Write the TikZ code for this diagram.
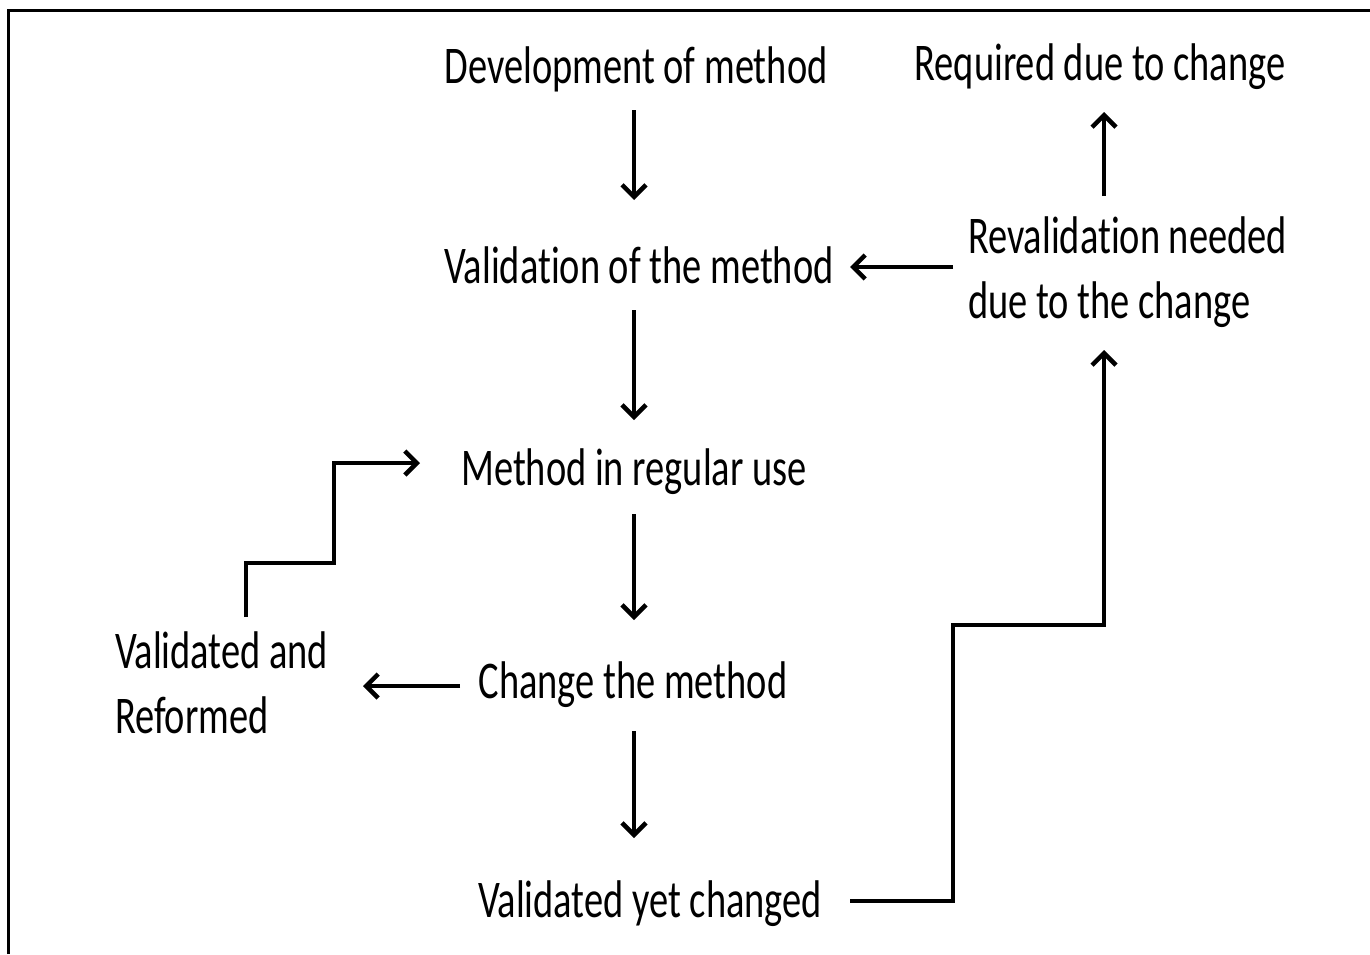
\documentclass[tikz,border=0pt]{standalone}
\usepackage{fontspec}
\setmainfont{Carlito}[FakeStretch=0.725,Ligatures=NoCommon]
\usetikzlibrary{arrows.meta,calc}
\begin{document}
\begin{tikzpicture}[x=1pt,y=-1pt,
  lbl/.style={inner sep=0pt,outer sep=0pt,font=\fontsize{53pt}{65pt}\selectfont},
  conn/.style={line width=4.5pt},
  arr/.style={conn,-{Straight Barb[length=12pt,width=24pt,line width=4.5pt]}}]
\useasboundingbox (0,0) rectangle (1370,954);
\draw[line width=3pt] (8,954) -- (8,10) -- (1370,10);
\coordinate (col) at (634,0);
\node[lbl,anchor=base] (dev) at (636,83) {Development of method};
\node[lbl,anchor=base] (val) at (639,283) {Validation of the method};
\node[lbl,anchor=base] (meth) at (634,485) {Method in regular use};
\node[lbl,anchor=base] (chg) at (633,698) {Change the method};
\node[lbl,anchor=base] (vyc) at (650,917) {Validated yet changed};
\node[lbl,anchor=base] (req) at (1100,80) {Required due to change};
\node[lbl,anchor=base west,align=left] (rev) at (968,318) {Revalidation needed\\due to the change};
\node[lbl,anchor=base west,align=left] (var) at (115,733) {Validated and\\Reformed};
% vertical chain
\draw[arr] ($(dev.base -| col)+(0,27)$) -- ($(val.base -| col)+(0,-83)$);
\draw[arr] ($(val.base -| col)+(0,27)$) -- ($(meth.base -| col)+(0,-65)$);
\draw[arr] ($(meth.base -| col)+(0,29)$) -- ($(chg.base -| col)+(0,-78)$);
\draw[arr] ($(chg.base -| col)+(0,33)$) -- ($(vyc.base -| col)+(0,-79)$);
% right side
\coordinate (rcol) at (1104,0);
\draw[arr] ($(rev.north -| rcol)+(0,-20)$) -- ($(req.base -| rcol)+(0,32)$);
\draw[arr] (953,267) -- (850,267);
\draw[arr] ($(vyc.base)+(200,-16)$) -- (953,901) -- (953,625) -- (1104,625) -- (1104,350);
% left side
\draw[arr] (460,686) -- (363,686);
\draw[arr] (246,617) -- (246,563) -- (334,563) -- (334,463) -- (420,463);
\end{tikzpicture}
\end{document}
